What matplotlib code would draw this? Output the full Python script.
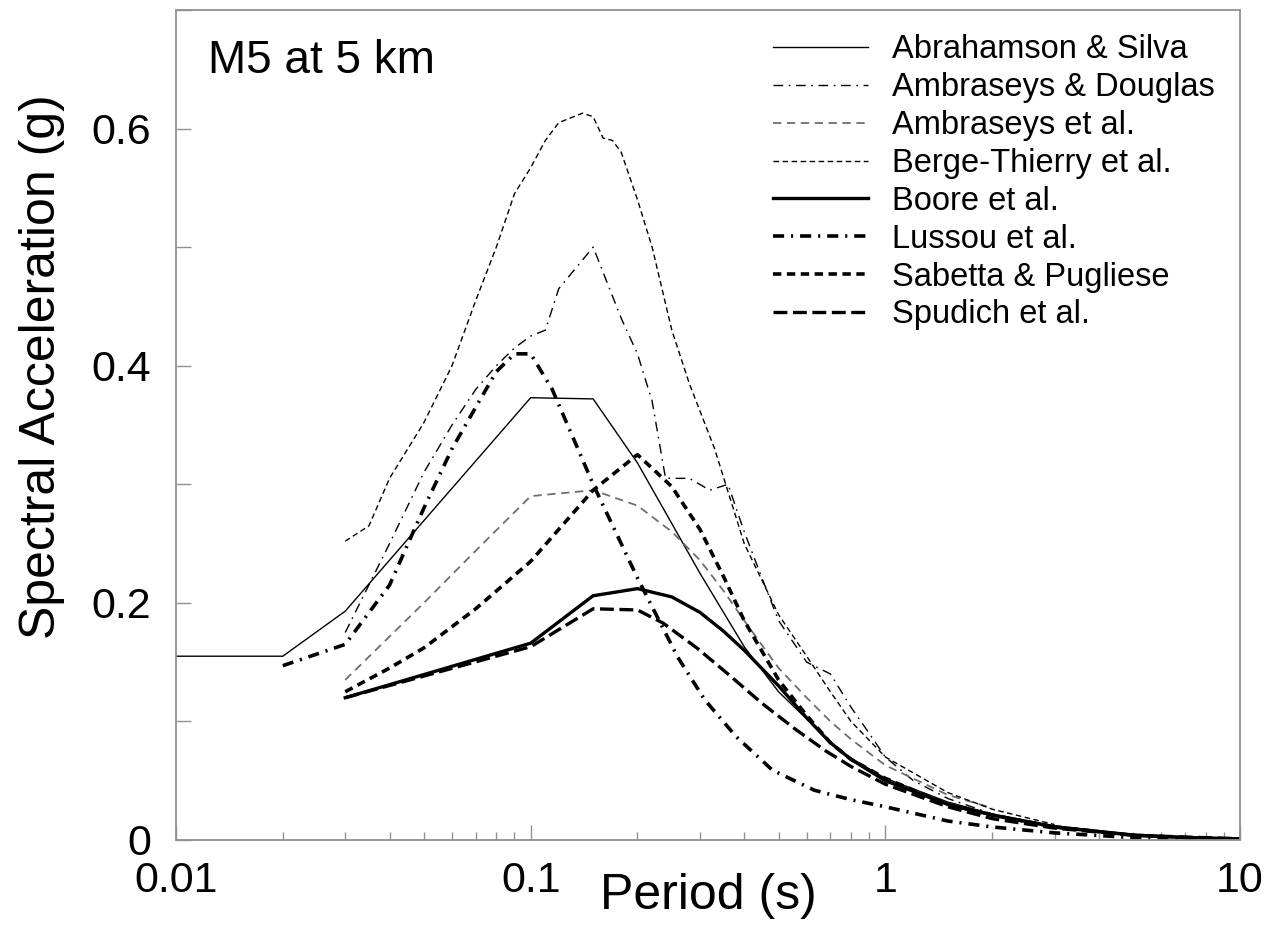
import numpy as np
import matplotlib
matplotlib.use("Agg")
import matplotlib.pyplot as plt
from matplotlib.ticker import FixedLocator, MultipleLocator, NullFormatter

plt.rcParams['font.family'] = ['Liberation Sans', 'DejaVu Sans']
plt.rcParams['lines.scale_dashes'] = False

# Response spectra for an M5 event at 5 km, period (s) vs SA (g)
as_T = [0.01, 0.02, 0.03, 0.1, 0.15, 0.2, 0.3, 0.4, 0.5, 0.75, 1.0, 1.5, 2.0, 3.0, 4.0, 5.0, 7.5, 10]
as_SA = [0.155, 0.155, 0.193, 0.373, 0.372, 0.318, 0.225, 0.163, 0.125, 0.074, 0.052, 0.032, 0.022, 0.012,
         0.008, 0.005, 0.0025, 0.0015]

ad_T = [0.03, 0.04, 0.05, 0.06, 0.07, 0.08, 0.09, 0.1, 0.11, 0.12, 0.15, 0.18, 0.2, 0.22, 0.24, 0.28,
        0.32, 0.36, 0.4, 0.45, 0.5, 0.6, 0.7, 0.8, 0.9, 1.0, 1.2, 1.5, 2.0]
ad_SA = [0.175, 0.25, 0.31, 0.35, 0.38, 0.40, 0.415, 0.425, 0.43, 0.465, 0.50, 0.44, 0.41, 0.37, 0.305,
         0.305, 0.295, 0.30, 0.26, 0.22, 0.185, 0.15, 0.14, 0.112, 0.09, 0.07, 0.05, 0.035, 0.022]

amb_T = [0.03, 0.05, 0.07, 0.1, 0.15, 0.2, 0.25, 0.3, 0.35, 0.4, 0.5, 0.6, 0.7, 0.8, 1.0, 1.5, 2.0]
amb_SA = [0.135, 0.2, 0.244, 0.29, 0.295, 0.282, 0.26, 0.236, 0.21, 0.185, 0.145, 0.12, 0.10, 0.085,
          0.063, 0.038, 0.027]

bt_T = [0.03, 0.035, 0.04, 0.05, 0.06, 0.07, 0.08, 0.09, 0.1, 0.11, 0.12, 0.14, 0.15, 0.16, 0.17, 0.18,
        0.2, 0.22, 0.25, 0.28, 0.33, 0.4, 0.5, 0.6, 0.7, 0.8, 1.0, 1.5, 2.0, 3.0]
bt_SA = [0.252, 0.265, 0.305, 0.352, 0.40, 0.455, 0.50, 0.545, 0.567, 0.59, 0.605, 0.613, 0.61, 0.592,
         0.59, 0.58, 0.54, 0.50, 0.43, 0.385, 0.33, 0.25, 0.19, 0.155, 0.125, 0.10, 0.07, 0.04, 0.026, 0.013]

boore_T = [0.03, 0.1, 0.15, 0.2, 0.25, 0.3, 0.35, 0.4, 0.5, 0.6, 0.7, 0.8, 1.0, 1.5, 2.0, 3.0, 4.0, 5.0,
           7.0, 10]
boore_SA = [0.12, 0.166, 0.206, 0.212, 0.205, 0.192, 0.176, 0.16, 0.13, 0.103, 0.082, 0.068, 0.05, 0.03,
            0.021, 0.011, 0.007, 0.004, 0.002, 0.001]

lus_T = [0.02, 0.03, 0.04, 0.05, 0.06, 0.07, 0.08, 0.09, 0.1, 0.115, 0.15, 0.19, 0.2, 0.26, 0.31, 0.38,
         0.48, 0.63, 0.8, 1.0, 1.5, 2.0, 3.0, 5.0, 10]
lus_SA = [0.147, 0.165, 0.215, 0.28, 0.33, 0.365, 0.395, 0.41, 0.41, 0.38, 0.30, 0.235, 0.221, 0.154,
          0.118, 0.087, 0.059, 0.042, 0.034, 0.028, 0.016, 0.011, 0.006, 0.002, 0.0005]

sp_T = [0.03, 0.04, 0.05, 0.07, 0.1, 0.15, 0.2, 0.25, 0.3, 0.35, 0.4, 0.5, 0.6, 0.7, 0.8, 1.0,
        1.5, 2.0, 3.0, 4.0]
sp_SA = [0.125, 0.145, 0.162, 0.195, 0.235, 0.295, 0.325, 0.298, 0.262, 0.222, 0.185, 0.135, 0.105,
         0.082, 0.068, 0.052, 0.03, 0.021, 0.011, 0.007]

spu_T = [0.03, 0.1, 0.15, 0.2, 0.236, 0.294, 0.36, 0.45, 0.56, 0.68, 0.8, 1.0, 1.5, 2.0, 3.0, 5.0, 10]
spu_SA = [0.12, 0.163, 0.195, 0.194, 0.183, 0.162, 0.14, 0.115, 0.093, 0.075, 0.062, 0.047, 0.028, 0.018,
          0.01, 0.004, 0.001]

fig = plt.figure(figsize=(12.7, 9.25), dpi=100)
ax = fig.add_axes([0.1386, 0.0919, 0.8378, 0.8973])

ax.plot(as_T, as_SA, color='k', lw=1.0, ls='-', label='Abrahamson & Silva')
ax.plot(ad_T, ad_SA, color='k', lw=1.0, ls=(0, (7, 4, 1.2, 4)), label='Ambraseys & Douglas')
ax.plot(amb_T, amb_SA, color='#6e6e6e', lw=1.3, ls=(0, (6, 4)), label='Ambraseys et al.')
ax.plot(bt_T, bt_SA, color='k', lw=1.0, ls=(0, (4, 2.5)), label='Berge-Thierry et al.')
ax.plot(boore_T, boore_SA, color='k', lw=2.4, ls='-', label='Boore et al.')
ax.plot(lus_T, lus_SA, color='k', lw=2.6, ls=(0, (8, 5, 1.5, 5)), label='Lussou et al.')
ax.plot(sp_T, sp_SA, color='k', lw=2.6, ls=(0, (6, 4)), label='Sabetta & Pugliese')
ax.plot(spu_T, spu_SA, color='k', lw=2.4, ls=(0, (10, 4)), label='Spudich et al.')

ax.set_xscale('log')
ax.set_xlim(0.01, 10)
ax.set_ylim(0, 0.7)

ax.xaxis.set_major_locator(FixedLocator([0.01, 0.1, 1, 10]))
ax.set_xticklabels(['0.01', '0.1', '1', '10'])
ax.xaxis.set_minor_formatter(NullFormatter())
ax.yaxis.set_major_locator(FixedLocator([0, 0.2, 0.4, 0.6]))
ax.set_yticklabels(['0', '0.2', '0.4', '0.6'])
ax.yaxis.set_minor_locator(MultipleLocator(0.1))

grey = '#909090'
for s in ax.spines.values():
    s.set_color(grey)
    s.set_linewidth(1.3)
ax.tick_params(which='both', direction='in', color=grey, width=1.0, labelsize=31)
ax.tick_params(axis='x', which='major', length=11, pad=15)
ax.tick_params(axis='x', which='minor', length=6)
ax.tick_params(axis='y', which='both', length=11, pad=18)
ax.tick_params(top=False, right=False, which='both')

ax.set_xlabel('Period (s)', fontsize=36)
ax.xaxis.set_label_coords(0.5, -0.04)
ax.set_ylabel('Spectral Acceleration (g)', fontsize=36)
ax.yaxis.set_label_coords(-0.104, 0.57)

ax.text(0.03, 0.924, 'M5 at 5 km', transform=ax.transAxes, fontsize=33, va='baseline', ha='left')

ax.legend(loc='upper left', bbox_to_anchor=(0.561, 0.9705), frameon=False, fontsize=23.5,
          handlelength=2.9, handletextpad=0.75, labelspacing=0.21, borderpad=0, borderaxespad=0)

fig.savefig('out.png', dpi=100)
